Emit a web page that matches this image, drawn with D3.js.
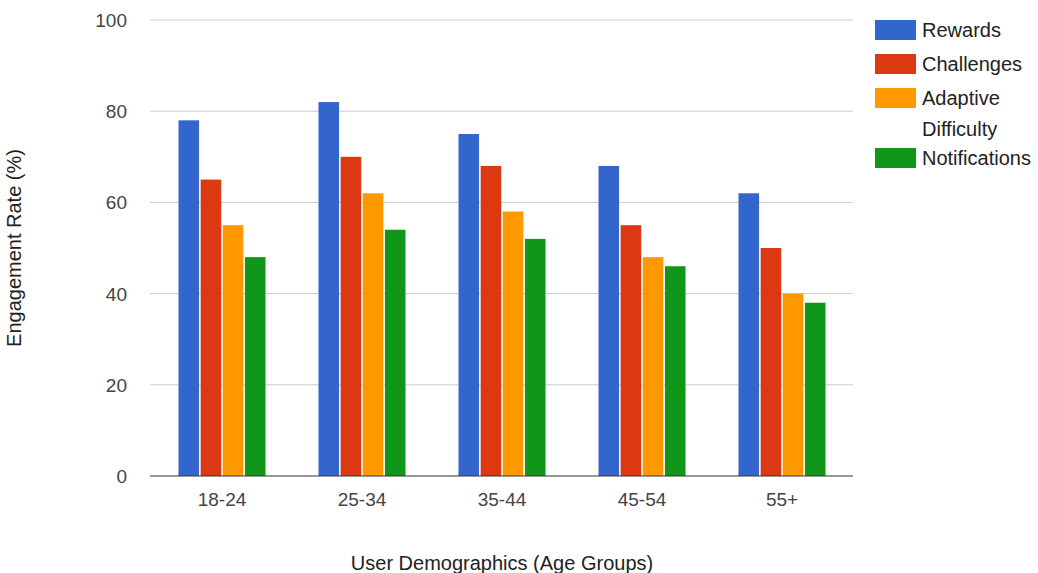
<!DOCTYPE html>
<html>
<head>
<meta charset="utf-8">
<script src="https://cdn.jsdelivr.net/npm/d3@7"></script>
<style>
  html, body { margin: 0; padding: 0; background: #ffffff; }
  svg { display: block; font-family: "Liberation Sans", Arial, sans-serif; }
</style>
</head>
<body>
<svg id="chart" width="1038" height="573"></svg>
<script>
// Age groups along the x axis
const ageGroups = ["18-24", "25-34", "35-44", "45-54", "55+"];

// Engagement rate (%) per feature, one value per age group
const rewards       = [78, 82, 75, 68, 62];
const challenges    = [65, 70, 68, 55, 50];
const adaptive      = [55, 62, 58, 48, 40];
const notifications = [48, 54, 52, 46, 38];

const seriesNames = ["Rewards", "Challenges", "Adaptive Difficulty", "Notifications"];
const legendLines = [["Rewards"], ["Challenges"], ["Adaptive", "Difficulty"], ["Notifications"]];
const yTicks = [0, 20, 40, 60, 80, 100];

const seriesValues = [rewards, challenges, adaptive, notifications];
const colors = ["#3366cc", "#dc3912", "#ff9900", "#109618"];

const svg = d3.select("#chart");
const plot = { left: 152, right: 852, top: 20, bottom: 476 };

const x0 = d3.scaleBand().domain(ageGroups).range([plot.left, plot.right]).padding(0);
const groupW = 87;
const x1 = d3.scaleBand().domain(seriesNames)
  .range([(x0.bandwidth() - groupW) / 2, (x0.bandwidth() + groupW) / 2])
  .paddingInner(0.07);
const y = d3.scaleLinear().domain([0, 100]).range([plot.bottom, plot.top]);

// Horizontal gridlines
svg.append("g").selectAll("line")
  .data(yTicks.filter(t => t !== 0))
  .join("line")
  .attr("x1", plot.left - 2).attr("x2", plot.right + 1)
  .attr("y1", d => y(d)).attr("y2", d => y(d))
  .attr("stroke", "#cccccc").attr("stroke-width", 1);

// Y axis tick labels
const yAxis = d3.axisLeft(y).tickValues(yTicks).tickSize(0).tickPadding(0);
const gy = svg.append("g").attr("transform", `translate(127,0)`).call(yAxis);
gy.select(".domain").remove();
gy.selectAll("text")
  .attr("font-size", 19).attr("font-family", "Liberation Sans, Arial, sans-serif")
  .attr("fill", "#444444").attr("dy", "0.34em");

// Bars
const groups = svg.append("g").selectAll("g")
  .data(ageGroups)
  .join("g")
  .attr("transform", d => `translate(${x0(d)},0)`);

groups.selectAll("rect")
  .data((d, i) => seriesNames.map((s, k) => ({ s, k, v: seriesValues[k][i] })))
  .join("rect")
  .attr("x", d => x1(d.s))
  .attr("width", x1.bandwidth())
  .attr("y", d => y(d.v))
  .attr("height", d => y(0) - y(d.v))
  .attr("fill", d => colors[d.k]);

// Baseline
svg.append("line")
  .attr("x1", plot.left - 2).attr("x2", plot.right + 1)
  .attr("y1", y(0)).attr("y2", y(0))
  .attr("stroke", "#333333").attr("stroke-width", 1.2);

// X axis tick labels
const xAxis = d3.axisBottom(x0).tickSize(0).tickPadding(0);
const gx = svg.append("g").attr("transform", `translate(0,${y(0)})`).call(xAxis);
gx.select(".domain").remove();
gx.selectAll("text")
  .attr("font-size", 19).attr("font-family", "Liberation Sans, Arial, sans-serif")
  .attr("fill", "#444444").attr("y", 30).attr("dy", 0);

// Axis titles
svg.append("text")
  .attr("x", (plot.left + plot.right) / 2).attr("y", 570)
  .attr("text-anchor", "middle").attr("font-size", 20).attr("fill", "#222222")
  .text("User Demographics (Age Groups)");

svg.append("text")
  .attr("transform", `translate(21,${(plot.top + plot.bottom) / 2}) rotate(-90)`)
  .attr("text-anchor", "middle").attr("font-size", 20).attr("fill", "#222222")
  .text("Engagement Rate (%)");

// Legend
const legendRows = [30, 64, 98, 158];
const legend = svg.append("g").selectAll("g")
  .data(seriesNames)
  .join("g")
  .attr("transform", (d, i) => `translate(875,${legendRows[i]})`);

legend.append("rect")
  .attr("x", 0).attr("y", -10).attr("width", 41).attr("height", 20)
  .attr("fill", (d, i) => colors[i]);

legend.append("text")
  .attr("x", 47).attr("y", 7)
  .attr("font-size", 20).attr("fill", "#222222")
  .selectAll("tspan")
  .data((d, i) => legendLines[i])
  .join("tspan")
  .attr("x", 47)
  .attr("dy", (d, j) => j === 0 ? 0 : 31)
  .text(d => d);
</script>
</body>
</html>
